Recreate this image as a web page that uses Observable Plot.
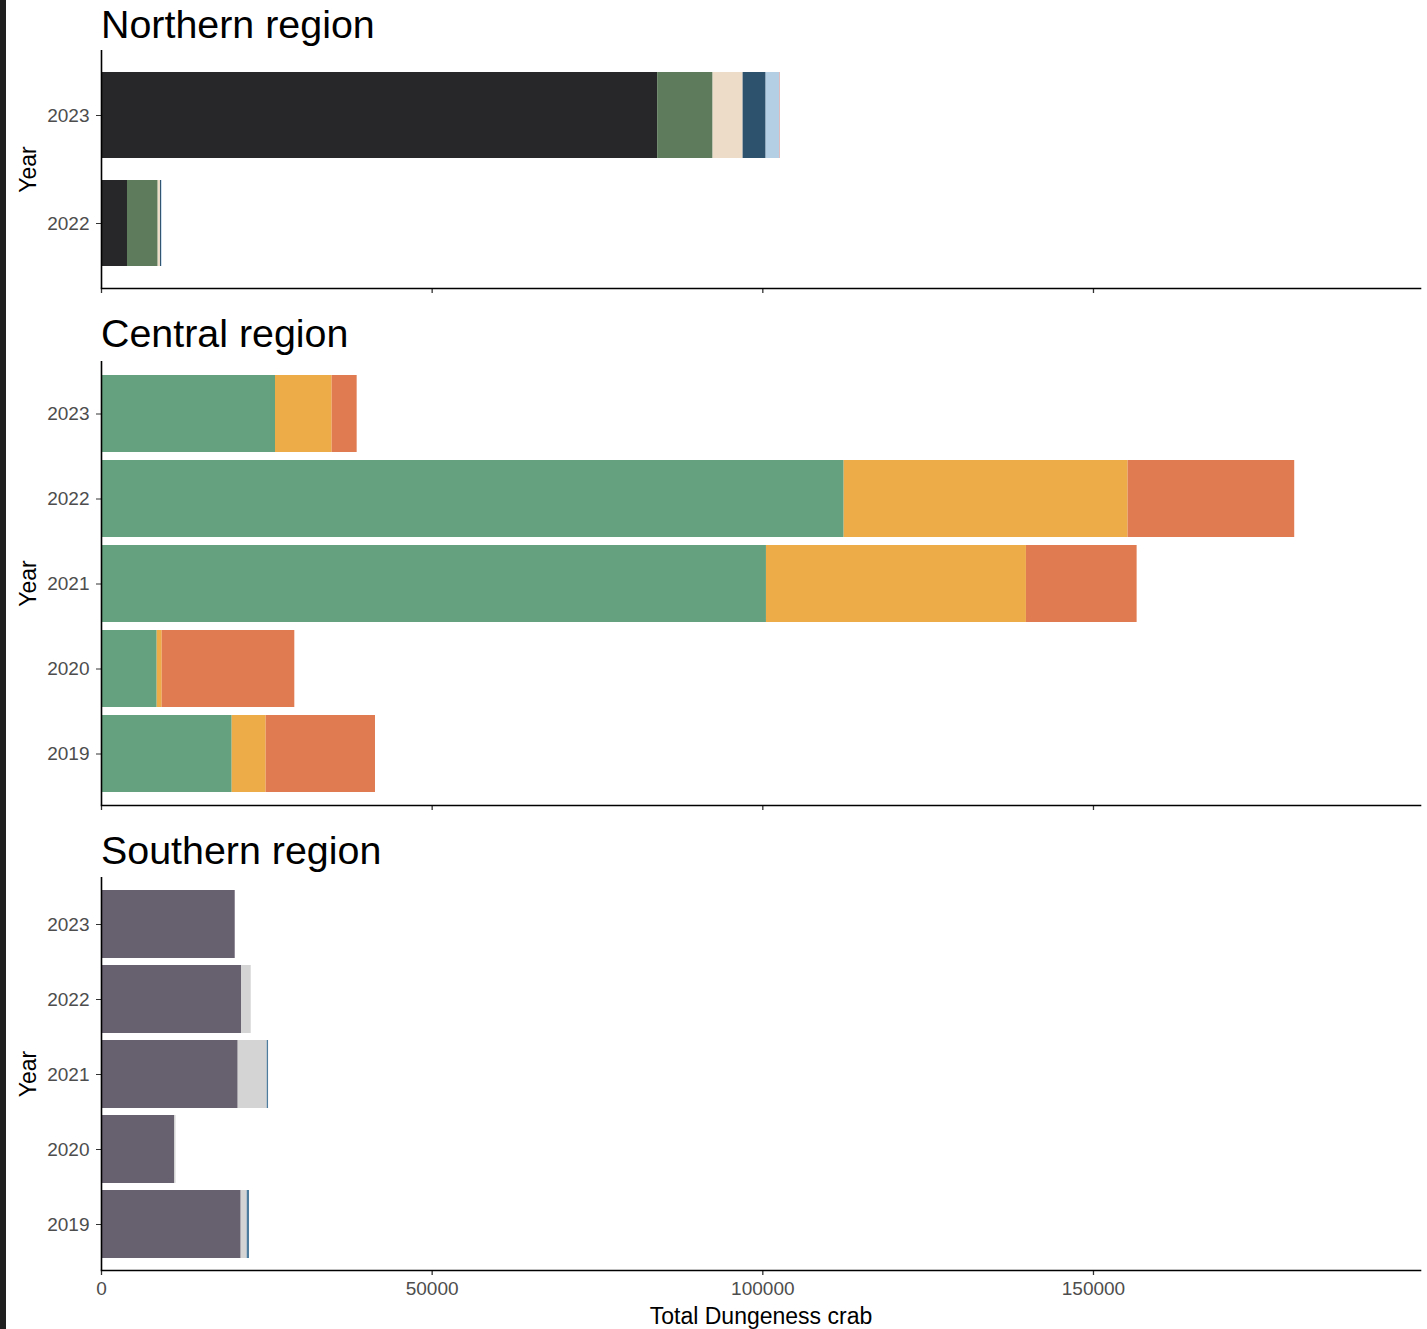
<!DOCTYPE html>
<html><head><meta charset="utf-8">
<script src="https://cdn.jsdelivr.net/npm/d3@7"></script>
<script src="https://cdn.jsdelivr.net/npm/@observablehq/plot@0.6"></script>
<style>
body{margin:0;background:#fff;font-family:"Liberation Sans",Arial,sans-serif;}
#wrap{position:relative;width:1427px;height:1329px;overflow:hidden;background:#fff;}
#stripe{position:absolute;left:0;top:0;width:6px;height:1329px;background:#1f1f1f;z-index:5;}
.title{position:absolute;left:101px;font-size:39.4px;line-height:39px;color:#000;white-space:nowrap;z-index:4;}
.panel{position:absolute;left:0;}
</style></head><body><div id="wrap"><div id="stripe"></div></div>
<script>
// ---- data ----
const xTicks = [0, 50000, 100000, 150000];
const xMax = 199450;

const northYears = ["2023", "2022"];
const northSeries = ["N1", "N2", "N3", "N4", "N5", "N6"];
const northColors = ["#272729", "#5e7c5b", "#ecdcc8", "#2c526e", "#b4cee3", "#d9a0a0"];
const northN1 = [84100, 3930];
const northN2 = [8380, 4640];
const northN3 = [4540, 350];
const northN4 = [3480, 150];
const northN5 = [2060, 100];
const northN6 = [100, 0];

const centralYears = ["2023", "2022", "2021", "2020", "2019"];
const centralSeries = ["C1", "C2", "C3"];
const centralColors = ["#65a17f", "#edac48", "#e07b51"];
const centralC1 = [26310, 112300, 100550, 8420, 19760];
const centralC2 = [8570, 42940, 39310, 760, 5140];
const centralC3 = [3780, 25190, 16740, 20050, 16530];

const southYears = ["2023", "2022", "2021", "2020", "2019"];
const southSeries = ["S1", "S2", "S3"];
const southColors = ["#67606f", "#d4d4d4", "#4d7c9c"];
const southS1 = [20220, 21170, 20670, 11040, 21120];
const southS2 = [0, 1470, 4390, 230, 910];
const southS3 = [0, 0, 200, 0, 350];

const titles = ["Northern region", "Central region", "Southern region"];
const xLabel = "Total Dungeness crab";
const yLabel = "Year";

function rows(years, series, valueArrays) {
  const out = [];
  series.forEach((s, i) => years.forEach((y, j) => out.push({year: y, series: s, value: valueArrays[i][j]})));
  return out;
}

const wrap = document.getElementById("wrap");

function panel({years, series, colors, values, barFrac, top, height, marginTop, marginBottom, labels}) {
  const data = rows(years, series, values);
  const svg = Plot.plot({
    width: 1427,
    height,
    marginLeft: 101,
    marginRight: 7,
    marginTop,
    marginBottom,
    style: {fontFamily: '"Liberation Sans", Arial, sans-serif', fontSize: "19px", background: "white", overflow: "visible"},
    x: {domain: [0, xMax]},
    y: {type: "band", domain: years, paddingInner: 1 - barFrac, paddingOuter: barFrac > 0.85 ? 0.15 : 0.2},
    color: {domain: series, range: colors},
    marks: [
      Plot.barX(data, {x: "value", y: "year", fill: "series"}),
      Plot.axisY({tickSize: 5, tickPadding: 7, fontSize: 19, fill: "#4d4d4d", stroke: "#333", label: null}),
      Plot.axisX({ticks: xTicks, tickSize: 5, tickPadding: 6, fontSize: 19, fill: "#4d4d4d", stroke: "#333", strokeWidth: 1.3,
        tickFormat: labels ? (d => String(d)) : (() => ""), label: null}),
      Plot.ruleX([0], {stroke: "black", strokeWidth: 1.6}),
      Plot.frame({anchor: "bottom", stroke: "black", strokeWidth: 1.6}),
      Plot.text([yLabel], {text: d => d, frameAnchor: "left", dx: -73, rotate: -90, textAnchor: "middle", lineAnchor: "middle", fontSize: 23, fill: "black"}),
      ...(labels ? [Plot.text([xLabel], {text: d => d, frameAnchor: "bottom", dy: 46, textAnchor: "middle", lineAnchor: "middle", fontSize: 23, fill: "black"})] : [])
    ]
  });
  svg.classList.add("panel");
  svg.style.top = top + "px";
  wrap.appendChild(svg);
}

panel({years: northYears, series: northSeries, colors: northColors,
  values: [northN1, northN2, northN3, northN4, northN5, northN6],
  barFrac: 0.8, top: 0, height: 298, marginTop: 50, marginBottom: 10, labels: false});
panel({years: centralYears, series: centralSeries, colors: centralColors,
  values: [centralC1, centralC2, centralC3],
  barFrac: 0.9, top: 298, height: 517, marginTop: 63, marginBottom: 10, labels: false});
panel({years: southYears, series: southSeries, colors: southColors,
  values: [southS1, southS2, southS3],
  barFrac: 0.9, top: 815, height: 514, marginTop: 62, marginBottom: 59, labels: true});

const titleTops = [4.5, 313.7, 831];
titles.forEach((t, i) => {
  const d = document.createElement("div");
  d.className = "title";
  d.style.top = titleTops[i] + "px";
  d.textContent = t;
  wrap.appendChild(d);
});
</script>
</body></html>
